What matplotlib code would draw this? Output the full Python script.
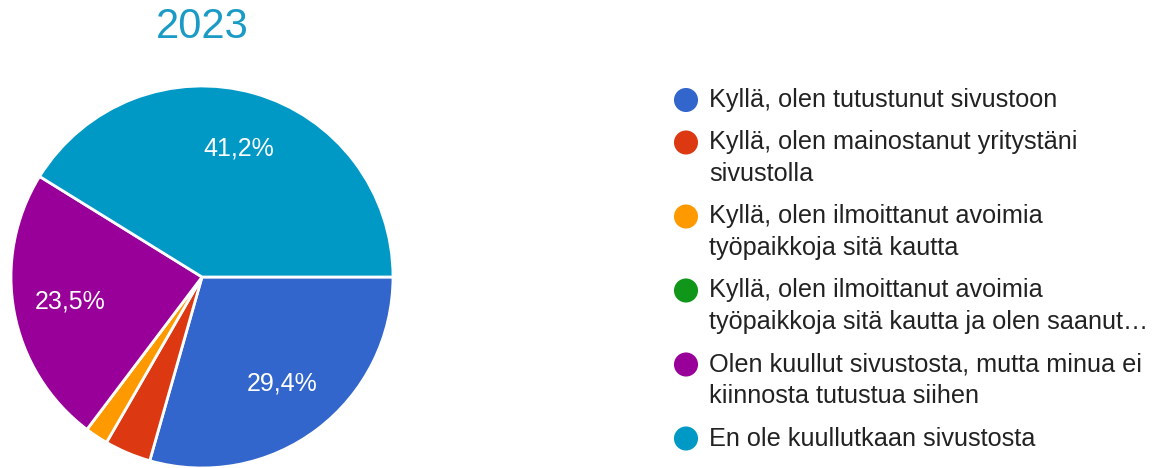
import matplotlib.pyplot as plt

# data
labels = [
    "Kyllä, olen tutustunut sivustoon",
    "Kyllä, olen mainostanut yritystäni\nsivustolla",
    "Kyllä, olen ilmoittanut avoimia\ntyöpaikkoja sitä kautta",
    "Kyllä, olen ilmoittanut avoimia\ntyöpaikkoja sitä kautta ja olen saanut…",
    "Olen kuullut sivustosta, mutta minua ei\nkiinnosta tutustua siihen",
    "En ole kuullutkaan sivustosta",
]
counts = [15, 2, 1, 0, 12, 21]
colors = ["#3366cc", "#dc3912", "#ff9900", "#109618", "#990099", "#0099c6"]
title = "2023"

plt.rcParams['font.family'] = ['Liberation Sans', 'DejaVu Sans']

W, H = 1154, 468
fig = plt.figure(figsize=(W / 100, H / 100), dpi=100)

# pie area in pixels: center (202, 277), radius 191
cx, cy, r = 202, 277, 191
ax = fig.add_axes([(cx - r) / W, 1 - (cy + r) / H, 2 * r / W, 2 * r / H])


def pct(p):
    if p < 5:
        return ""
    return ("%.1f%%" % p).replace(".", ",")


wedges, texts, autotexts = ax.pie(
    counts, colors=colors, startangle=0, counterclock=False,
    autopct=pct, pctdistance=0.7,
    wedgeprops=dict(edgecolor="white", linewidth=2),
    textprops=dict(color="white", fontsize=18),
)
ax.set_xlim(-1, 1)
ax.set_ylim(-1, 1)
ax.axis("off")

fig.text(cx / W, 1 - 27 / H, title, ha="center", va="center",
         fontsize=30, color="#1a9bc6")

# legend drawn by hand in pixel coordinates
lax = fig.add_axes([0, 0, 1, 1], facecolor="none")
lax.set_xlim(0, W)
lax.set_ylim(H, 0)
lax.axis("off")

y = 100
line_h = 31.5
gap = 42.5
for lab, col in zip(labels, colors):
    lax.scatter([686], [y], s=300, color=col, edgecolor="none")
    lines = lab.split("\n")
    for i, ln in enumerate(lines):
        lax.text(709, y + i * line_h, ln, ha="left", va="center",
                 fontsize=18.2, color="#222222")
    y += (len(lines) - 1) * line_h + gap

fig.savefig("out.png", dpi=100)
